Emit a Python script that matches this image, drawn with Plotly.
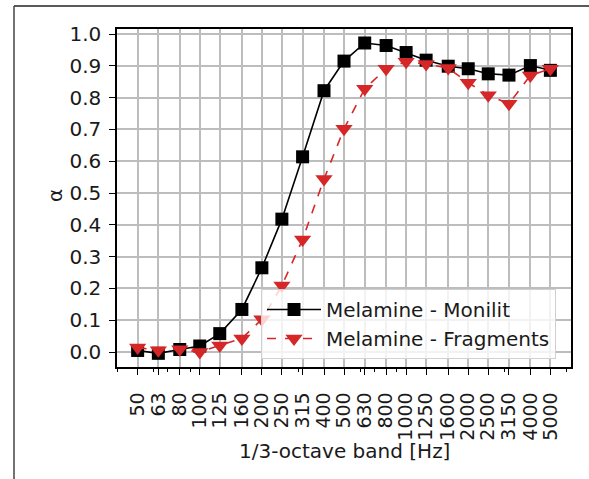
import numpy as np
import plotly.graph_objects as go

freqs = [50, 63, 80, 100, 125, 160, 200, 250, 315, 400, 500, 630, 800,
         1000, 1250, 1600, 2000, 2500, 3150, 4000, 5000]
tick_labels = [str(f) for f in freqs]
monilit = [0.005, -0.004, 0.008, 0.019, 0.058, 0.134, 0.265, 0.418, 0.614, 0.822,
           0.915, 0.972, 0.964, 0.942, 0.918, 0.899, 0.891, 0.875, 0.871, 0.901, 0.886]
fragments = [0.014, 0.006, 0.009, 0.0, 0.021, 0.043, 0.103, 0.209, 0.354, 0.544,
             0.702, 0.828, 0.891, 0.913, 0.906, 0.893, 0.847, 0.808, 0.781, 0.870, 0.891]
y_ticks = [0.0, 0.1, 0.2, 0.3, 0.4, 0.5, 0.6, 0.7, 0.8, 0.9, 1.0]
minor_ticks = [40, 60, 70, 90, 300, 600, 700, 900, 3000, 6000]

FONT = "DejaVu Sans"
FS = 20
W, H = 589, 479
L, R, T, B = 117, 571, 29, 367
pw, ph = R - L, B - T

def px_x(x):
    return (x - L) / pw

def px_y(y):
    return (B - y) / ph

fig = go.Figure()
fig.add_trace(go.Scatter(
    x=freqs, y=monilit, mode="lines+markers", name="Melamine - Monilit",
    line=dict(color="black", width=1.6),
    marker=dict(symbol="square", size=13, color="black"),
))
fig.add_trace(go.Scatter(
    x=freqs, y=fragments, mode="lines+markers", name="Melamine - Fragments",
    line=dict(color="#d62728", width=1.6, dash="dash"),
    marker=dict(symbol="triangle-down", size=15, color="#d62728"),
))

fig.update_layout(
    width=W, height=H,
    margin=dict(l=L, r=W - R, t=T, b=H - B, pad=0, autoexpand=False),
    paper_bgcolor="white", plot_bgcolor="white",
    font=dict(family=FONT, size=FS, color="#1a1a1a"),
    showlegend=True,
    legend=dict(
        x=px_x(261), y=px_y(289), xanchor="left", yanchor="top",
        bgcolor="rgba(255,255,255,0.8)", bordercolor="#d0d0d0", borderwidth=1,
        font=dict(family=FONT, size=FS, color="#1a1a1a"),
        itemwidth=54, tracegroupgap=0,
    ),
    xaxis=dict(
        type="log", automargin=False,
        range=[np.log10(50) - 0.1, np.log10(5000) + 0.1],
        tickmode="array", tickvals=freqs, ticktext=tick_labels,
        tickangle=-90, tickfont=dict(family=FONT, size=19),
        ticks="outside", ticklen=6, tickwidth=1.2, tickcolor="black",
        showline=True, linecolor="black", linewidth=1.5, mirror=True,
        showgrid=True, gridcolor="#bdbdbd", gridwidth=1.6,
        zeroline=False,
        ticklabelstandoff=10,
        minor=dict(tickmode="array", tickvals=minor_ticks, ticks="outside",
                   ticklen=3.5, tickwidth=1, tickcolor="black", showgrid=False),
    ),
    yaxis=dict(
        automargin=False,
        range=[-0.047, 1.016],
        tickmode="array", tickvals=y_ticks, ticktext=[f"{v:.1f}" for v in y_ticks],
        ticks="outside", ticklen=6, tickwidth=1.2, tickcolor="black",
        showline=True, linecolor="black", linewidth=1.5, mirror=True,
        showgrid=True, gridcolor="#bdbdbd", gridwidth=1.6,
        zeroline=False,
        ticklabelstandoff=4,
    ),
    annotations=[
        dict(text="α", x=px_x(55), y=px_y(196), xref="paper", yref="paper",
             xanchor="center", yanchor="middle",
             showarrow=False, textangle=-90, font=dict(family=FONT, size=FS)),
        dict(text="1/3-octave band [Hz]", x=px_x(344), y=px_y(451),
             xref="paper", yref="paper", xanchor="center", yanchor="middle",
             showarrow=False, font=dict(family=FONT, size=FS)),
    ],
    shapes=[
        dict(type="line", xref="paper", yref="paper",
             x0=px_x(14), x1=px_x(589), y0=px_y(6), y1=px_y(6),
             line=dict(color="#222", width=1.5)),
        dict(type="line", xref="paper", yref="paper",
             x0=px_x(14), x1=px_x(14), y0=px_y(6), y1=px_y(482),
             line=dict(color="#444", width=1.5)),
    ],
)

fig.write_html("out.html",
               config={"displayModeBar": False},
               post_script=("document.documentElement.style.overflow='hidden';"
                            "document.body.style.margin='0px';"
                            "document.body.style.overflow='hidden';"))
